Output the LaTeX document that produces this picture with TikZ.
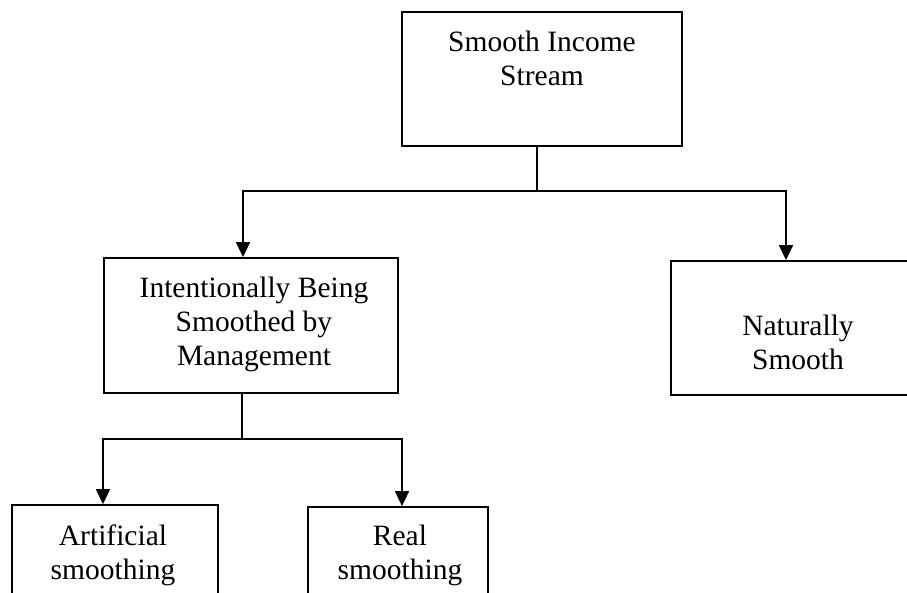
\documentclass[tikz,border=0pt]{standalone}
\usepackage{fontspec}
\setmainfont{Liberation Serif}
\usetikzlibrary{arrows.meta}

\begin{document}
\begin{tikzpicture}[x=1pt,y=-1pt,
  box/.style={draw,line width=1.8pt,inner sep=0pt},
  txt/.style={align=center,inner sep=0pt,font=\fontsize{29.5}{34}\selectfont},
  link/.style={line width=1.8pt},
  arr/.style={link,-{Triangle[length=15pt,width=14pt]}}]
  \clip (0,0) rectangle (907,593);
  % boxes
  \node[box,minimum width=280pt,minimum height=134pt] (income) at (542,79) {};
  \node[box,minimum width=294pt,minimum height=135pt] (intent) at (251,325.5) {};
  \node[box,minimum width=254pt,minimum height=134pt] (natural) at (798,328) {};
  \node[box,minimum width=206pt,minimum height=110pt] (artif) at (115,560) {};
  \node[box,minimum width=180pt,minimum height=108pt] (real) at (398,561) {};
  % texts
  \node[txt] (incomeT) at (542,58) {Smooth Income\\Stream};
  \node[txt] (intentT) at (254,324) {Intentionally Being\\Smoothed by\\Management};
  \node[txt] (naturalT) at (798,342) {Naturally\\Smooth};
  \node[txt] (artifT) at (113,555) {Artificial\\smoothing};
  \node[txt] (realT) at (400,555) {Real\\smoothing};
  % connectors
  \coordinate (topsplit) at (537,191);
  \coordinate (midsplit) at (242,439);
  \draw[link] ([xshift=-5pt]income.south) -- (topsplit);
  \draw[arr] (topsplit) -| ([xshift=-8pt]intent.north);
  \draw[arr] (topsplit) -| ([xshift=-12pt]natural.north);
  \draw[link] ([xshift=-9pt]intent.south) -- (midsplit);
  \draw[arr] (midsplit) -| ([xshift=-12pt]artif.north);
  \draw[arr] (midsplit) -| ([xshift=4pt]real.north);
\end{tikzpicture}
\end{document}
